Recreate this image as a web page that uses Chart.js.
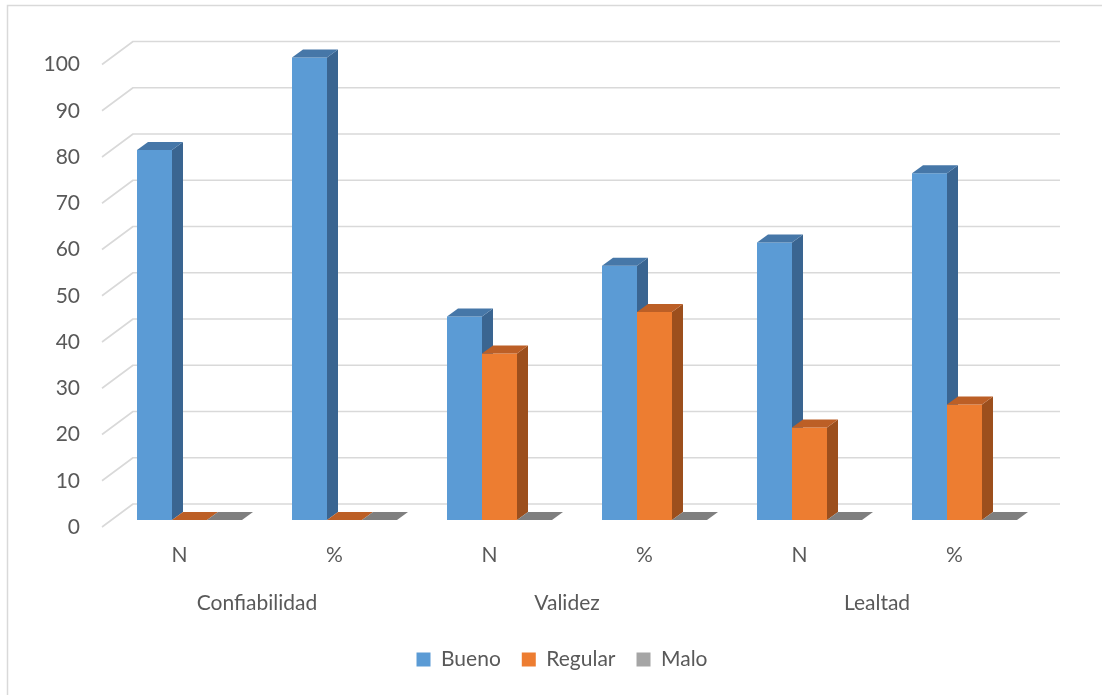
<!DOCTYPE html>
<html>
<head>
<meta charset="utf-8">
<script src="https://cdn.jsdelivr.net/npm/chart.js@4.4.1/dist/chart.umd.min.js"></script>
<style>
  html, body { margin: 0; padding: 0; background: #ffffff; overflow: hidden; }
  #wrap { width: 1102px; height: 695px; position: relative; }
</style>
</head>
<body>
<div id="wrap"><canvas id="chart" width="1102" height="695"></canvas></div>
<script>
// Data
const categories = ['N', '%', 'N', '%', 'N', '%'];
const groups = ['Confiabilidad', 'Validez', 'Lealtad'];
const seriesNames = ['Bueno', 'Regular', 'Malo'];
const bueno = [80, 100, 44, 55, 60, 75];
const regular = [0, 0, 36, 45, 20, 25];
const malo = [0, 0, 0, 0, 0, 0];
const yMin = 0;
const yMax = 100;
const yStep = 10;

// Styling
const FONT = { family: 'Lato, "Open Sans", sans-serif', size: 21 };
const TEXT = '#595959';
const GRID = '#d9d9d9';
const fronts = ['#5b9bd5', '#ed7d31', '#a5a5a5'];
const faces = [
  { top: '#4677a8', side: '#3a6591' },
  { top: '#bc5f26', side: '#9c4f1d' },
  { top: '#7f7f7f', side: '#6b6b6b' }
];
// depth of a bar (towards the back wall)
const BAR_DX = 11, BAR_DY = -8;
// floor / walls relative to the bar plane
const FRONT_DX = -10, FRONT_DY = 7;
const BACK_DX = 21, BACK_DY = -16;

function drawFaces(ctx, bar, f) {
  const p = bar.getProps(['x', 'y', 'base', 'width'], true);
  const l = p.x - p.width / 2, r = p.x + p.width / 2;
  const top = Math.min(p.y, p.base), base = Math.max(p.y, p.base);
  if (base - top > 0.5) {
    ctx.fillStyle = f.side;
    ctx.beginPath();
    ctx.moveTo(r, top);
    ctx.lineTo(r + BAR_DX, top + BAR_DY);
    ctx.lineTo(r + BAR_DX, base + BAR_DY);
    ctx.lineTo(r, base);
    ctx.closePath();
    ctx.fill();
  }
  ctx.fillStyle = f.top;
  ctx.beginPath();
  ctx.moveTo(l, top);
  ctx.lineTo(l + BAR_DX, top + BAR_DY);
  ctx.lineTo(r + BAR_DX, top + BAR_DY);
  ctx.lineTo(r, top);
  ctx.closePath();
  ctx.fill();
}

const box3d = {
  id: 'box3d',
  beforeDraw(chart) {
    const ctx = chart.ctx;
    ctx.save();
    ctx.strokeStyle = GRID;
    ctx.lineWidth = 1.5;
    ctx.beginPath();
    ctx.moveTo(7.5, 700);
    ctx.lineTo(7.5, 5.5);
    ctx.lineTo(1110, 5.5);
    ctx.stroke();
    ctx.restore();
  },
  beforeDatasetsDraw(chart) {
    const { ctx, chartArea: a, scales: { y } } = chart;
    ctx.save();
    ctx.strokeStyle = GRID;
    ctx.lineWidth = 1.6;
    ctx.lineJoin = 'round';
    y.ticks.forEach(t => {
      const py = y.getPixelForValue(t.value);
      ctx.beginPath();
      ctx.moveTo(a.left + FRONT_DX, py + FRONT_DY);
      ctx.lineTo(a.left + BACK_DX, py + BACK_DY);
      ctx.lineTo(a.right + BACK_DX - 3, py + BACK_DY);
      ctx.stroke();
    });
    ctx.restore();
  },
  // the boxes are painted below, series by series from left to right
  beforeDatasetDraw() {
    return false;
  },
  afterDatasetsDraw(chart) {
    const ctx = chart.ctx;
    ctx.save();
    chart.data.datasets.forEach((ds, i) => {
      const meta = chart.getDatasetMeta(i);
      if (meta.hidden) return;
      meta.data.forEach(bar => {
        bar.draw(ctx, chart.chartArea);
        drawFaces(ctx, bar, faces[i]);
      });
    });
    ctx.restore();
  }
};

const seriesValues = [bueno, regular, malo];
const datasets = seriesNames.map((name, i) => ({
  label: name,
  data: seriesValues[i],
  backgroundColor: fronts[i],
  borderWidth: 0,
  categoryPercentage: 0.6774,
  barPercentage: 1
}));

new Chart(document.getElementById('chart'), {
  type: 'bar',
  data: { labels: categories, datasets },
  plugins: [box3d],
  options: {
    responsive: false,
    animation: false,
    layout: { padding: { left: 22, right: 0, top: 57.5, bottom: 15 } },
    plugins: {
      tooltip: { enabled: false },
      legend: {
        position: 'bottom',
        labels: {
          boxWidth: 14,
          boxHeight: 14,
          padding: 21,
          color: TEXT,
          font: FONT
        }
      }
    },
    scales: {
      x: {
        type: 'category',
        labels: categories,
        grid: { display: false, drawTicks: false },
        border: { display: false },
        ticks: { color: TEXT, font: FONT, padding: 23, labelOffset: -10, maxRotation: 0, autoSkip: false },
        afterFit(s) { s.height = 60; }
      },
      x2: {
        type: 'category',
        position: 'bottom',
        labels: groups,
        offset: true,
        grid: { display: false, drawTicks: false },
        border: { display: false },
        ticks: { color: TEXT, font: FONT, padding: 11, labelOffset: -10, maxRotation: 0, autoSkip: false },
        afterFit(s) { s.height = 48; }
      },
      y: {
        min: yMin,
        max: yMax,
        grid: { display: false, drawTicks: false },
        border: { display: false },
        ticks: { stepSize: yStep, color: TEXT, font: FONT, padding: 32, labelOffset: 7 },
        afterFit(s) { s.width = 90; }
      },
      yR: {
        position: 'right',
        display: true,
        grid: { display: false, drawTicks: false },
        border: { display: false },
        ticks: { display: false },
        afterFit(s) { s.width = 60; }
      }
    }
  }
});
</script>
</body>
</html>
